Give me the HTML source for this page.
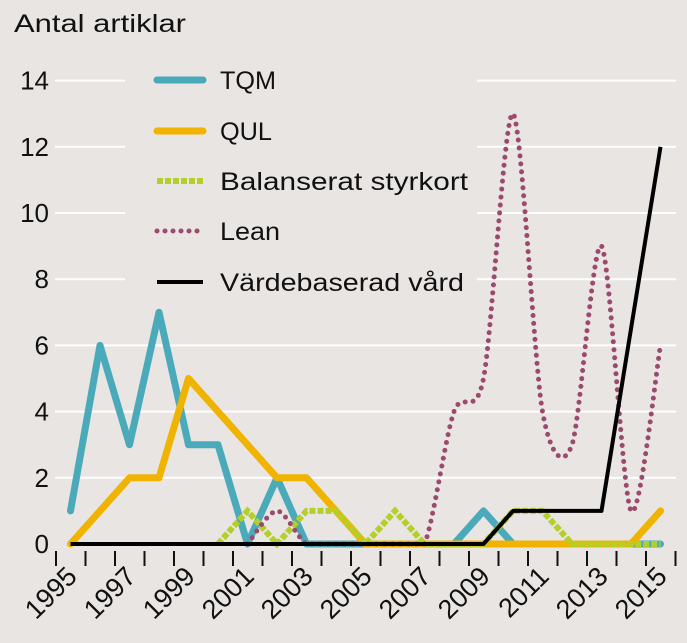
<!DOCTYPE html>
<html><head><meta charset="utf-8"><style>
html,body{margin:0;padding:0;background:#e9e5e3;}
svg{display:block;font-family:"Liberation Sans",sans-serif;}
</style></head><body>
<svg id="chart" width="687" height="643" viewBox="0 0 687 643">
<rect width="687" height="643" fill="#e9e5e3"/>
<text x="14" y="32" font-size="25" fill="#111" textLength="172" lengthAdjust="spacingAndGlyphs">Antal artiklar</text>
<g id="grid"></g><g id="yt"></g><g id="xt"></g><g id="series"></g>
<g id="legend"></g>
</svg>
<script>
const years=[1995,1996,1997,1998,1999,2000,2001,2002,2003,2004,2005,2006,2007,2008,2009,2010,2011,2012,2013,2014,2015];
const tqm=[1,6,3,7,3,3,0,2,0,0,0,0,0,0,1,0,0,0,0,0,0];
const qul=[0,1,2,2,5,4,3,2,2,1,0,0,0,0,0,0,0,0,0,0,1];
const balYears=[2000,2001,2002,2003,2004,2005,2006,2007,2008,2009,2010,2011,2012,2013,2014,2015];
const bal=[0,1,0,1,1,0,1,0,0,0,1,1,0,0,0,0];
const leanYears=[2001,2002,2003,2004,2005,2006,2007,2008,2009,2010,2011,2012,2013,2014,2015];
const lean=[0,1,0,0,0,0,0,4,5,13,4,3,9,1,6];
const vard=[0,0,0,0,0,0,0,0,0,0,0,0,0,0,0,1,1,1,1,6.5,12];
const yTicks=[0,2,4,6,8,10,12,14];
const xLabels=[1995,1997,1999,2001,2003,2005,2007,2009,2011,2013,2015];
const NS="http://www.w3.org/2000/svg";
const X=y=>70.5+(y-1995)*29.5;
const Y=v=>544-v*33.1;
function mk(t,a,p){const e=document.createElementNS(NS,t);for(const k in a)e.setAttribute(k,a[k]);p.appendChild(e);return e;}
const grid=document.getElementById('grid'),yt=document.getElementById('yt'),xt=document.getElementById('xt'),ser=document.getElementById('series'),leg=document.getElementById('legend');
yTicks.forEach(v=>{
  if(v>0){const l=mk('line',{x1:55,x2:676,y1:Y(v),y2:Y(v),stroke:'#fff','stroke-width':2},grid);
  
  }
  const t=mk('text',{x:49,y:Y(v)+9,'text-anchor':'end','font-size':26,fill:'#111'},yt);t.textContent=v;
  
  
});
for(let k=0;k<22;k++){const x=56+29.5*k;const l=mk('line',{x1:x,x2:x,y1:551,y2:566,stroke:'#111','stroke-width':2},xt);
  
  }
xLabels.forEach(y=>{const x=X(y);const t=mk('text',{x:0,y:0,'text-anchor':'end','font-size':27,fill:'#111',transform:`translate(${x+8},${578}) rotate(-45)`},xt);t.textContent=y;
  
  });
function poly(xs,vs){return xs.map((y,i)=>(i?'L':'M')+X(y)+','+Y(vs[i])).join('');}
function smooth(xs,vs){const p=xs.map((y,i)=>[X(y),Y(vs[i])]);const base=Y(0);const c=v=>Math.min(v,base);let d='M'+p[0];for(let i=0;i<p.length-1;i++){const p0=p[i-1]||p[i],p1=p[i],p2=p[i+1],p3=p[i+2]||p2;
  d+=`C${p1[0]+(p2[0]-p0[0])/7},${c(p1[1]+(p2[1]-p0[1])/7)} ${p2[0]-(p3[0]-p1[0])/7},${c(p2[1]-(p3[1]-p1[1])/7)} ${p2[0]},${p2[1]}`;}return d;}
let s;
s=mk('path',{d:poly(years,tqm),fill:'none',stroke:'#4aaab9','stroke-width':7,'stroke-linejoin':'round','stroke-linecap':'round'},ser);

s=mk('path',{d:poly(years,qul),fill:'none',stroke:'#f0b400','stroke-width':7,'stroke-linejoin':'round','stroke-linecap':'round'},ser);

s=mk('path',{d:poly(balYears,bal),fill:'none',stroke:'#b5cf2a','stroke-width':6,'stroke-dasharray':'6 2'},ser);

s=mk('path',{d:smooth(leanYears,lean),fill:'none',stroke:'#9b4a6e','stroke-width':5,'stroke-dasharray':'0 8','stroke-linecap':'round'},ser);

s=mk('path',{d:poly(years,vard),fill:'none',stroke:'#000','stroke-width':4,'stroke-linejoin':'round'},ser);

mk('rect',{x:125,y:60,width:352,height:240,fill:'#e9e5e3'},leg);
const legItems=[['TQM','#4aaab9',{ 'stroke-width':7,'stroke-linecap':'round'}],['QUL','#f0b400',{'stroke-width':7,'stroke-linecap':'round'}],['Balanserat styrkort','#b5cf2a',{'stroke-width':6,'stroke-dasharray':'6 2'}],['Lean','#9b4a6e',{'stroke-width':5,'stroke-dasharray':'0 8','stroke-linecap':'round'}],['Värdebaserad vård','#000',{'stroke-width':4}]];
const legY=[80,131,181,231,282];
const legW=[56,52,248,60,244];
legItems.forEach((it,i)=>{const g=mk('g',{},leg);
  
  
  mk('line',Object.assign({x1:157,x2:203,y1:legY[i],y2:legY[i],stroke:it[1]},it[2]),g);
  const t=mk('text',{x:220,y:legY[i]+9,'font-size':25,fill:'#111',textLength:legW[i],lengthAdjust:'spacingAndGlyphs'},g);t.textContent=it[0];});
</script>
</body></html>
